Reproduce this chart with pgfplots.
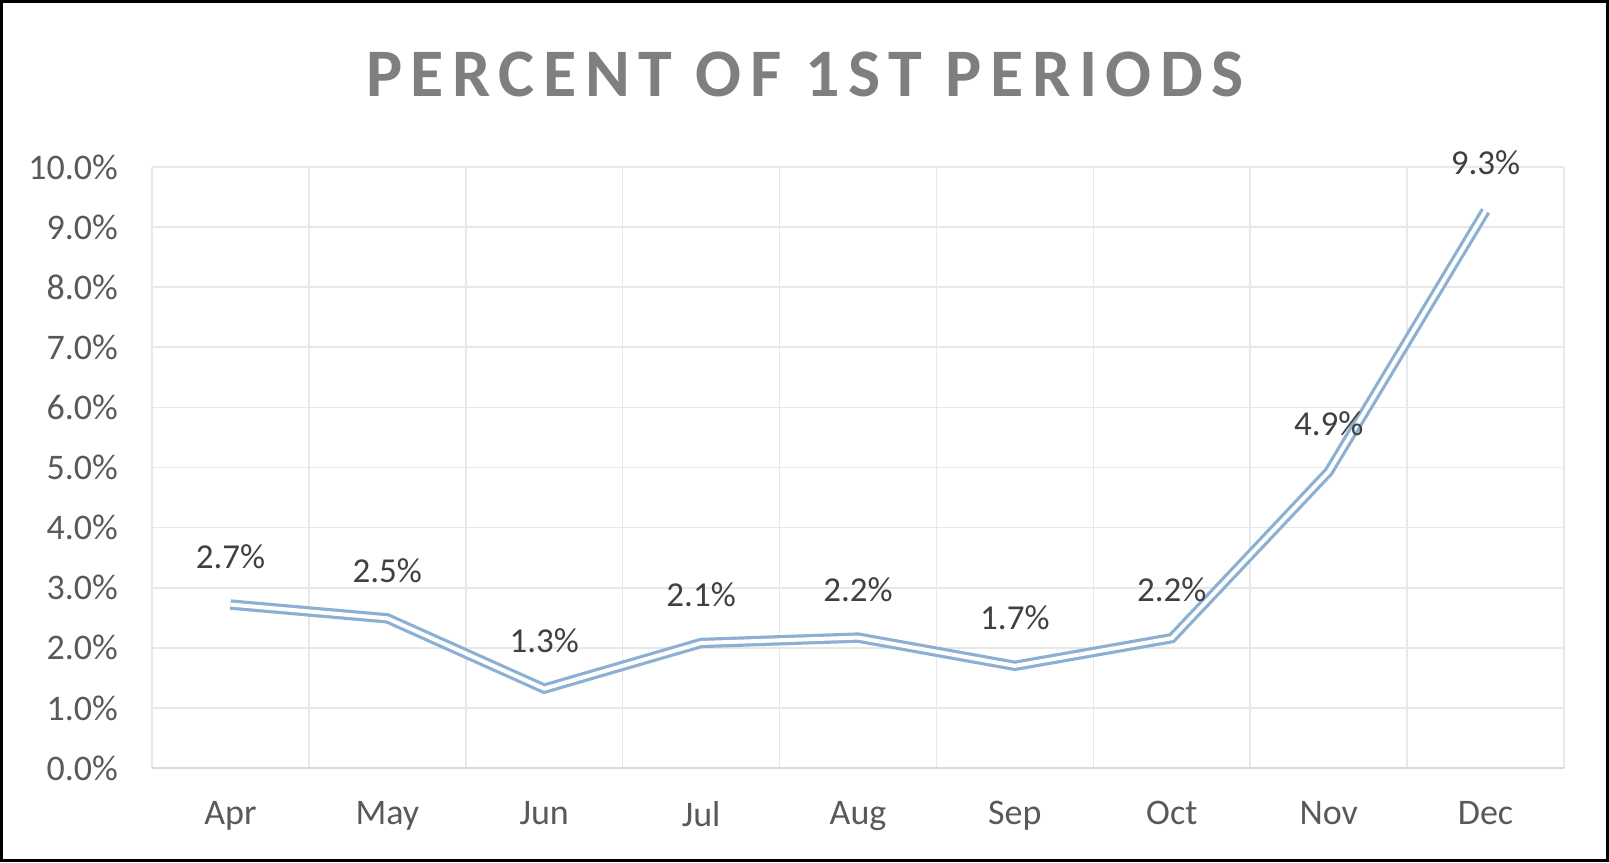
\documentclass[border=0pt]{standalone}
\usepackage{pgfplots}
\pgfplotsset{compat=1.18}
\usepackage{fontspec}
\setmainfont{Carlito}
\newfontfamily\titlefont[LetterSpace=12.5]{Carlito}
\definecolor{ticktext}{RGB}{89,89,89}
\definecolor{datatext}{RGB}{64,64,64}
\definecolor{titlegray}{RGB}{127,127,127}
\definecolor{gridgray}{RGB}{232,232,232}
\definecolor{axisgray}{RGB}{217,217,217}
\definecolor{lineblue}{RGB}{140,176,211}
\begin{document}
\begin{tikzpicture}
\useasboundingbox (0,0) rectangle (804.5pt,431pt);
\begin{axis}[
  at={(76pt,47pt)}, anchor=south west,
  scale only axis, width=706pt, height=300.5pt,
  xmin=-0.5, xmax=8.5, ymin=0, ymax=10,
  xtick={0,...,8},
  xticklabels={Apr,May,Jun,Jul,Aug,Sep,Oct,Nov,Dec},
  minor xtick={-0.5,0.5,...,8.5},
  ytick={0,1,...,10},
  xminorgrids=true, ymajorgrids=true, xmajorgrids=false,
  grid style={gridgray, line width=0.8pt},
  minor grid style={gridgray, line width=0.8pt},
  major tick length=0pt, minor tick length=0pt,
  axis line style={draw=none},
  /pgf/number format/assume math mode=true,
  yticklabel={\pgfmathprintnumber[fixed,fixed zerofill,precision=1]{\tick}\%},
  yticklabel style={font=\fontsize{18}{20}\selectfont, text=ticktext, xshift=-13.5pt},
  xticklabel style={font=\fontsize{18}{20}\selectfont, text=ticktext, yshift=-13pt},
  clip=false,
  nodes near coords={\pgfmathprintnumber[fixed,fixed zerofill,precision=1]{\pgfplotspointmeta}\%},
  every node near coord/.style={anchor=center, yshift=24pt, font=\fontsize{17.5}{20}\selectfont, text=datatext},
]
\draw[axisgray, line width=0.8pt] (axis cs:-0.5,0) -- (axis cs:8.5,0);
\addplot[lineblue, line width=1.6pt, double=white, double distance=2pt, mark=none, line join=miter]
  coordinates {(0,2.72) (1,2.49) (2,1.32) (3,2.08) (4,2.17) (5,1.70) (6,2.16) (7,4.93) (8,9.27)};
\end{axis}
\node[font=\titlefont\bfseries\fontsize{34}{38}\selectfont, text=titlegray, anchor=center] at (402.5pt,394pt) {PERCENT OF 1ST PERIODS};
\draw[black, line width=1.6pt] (0.8pt,0.8pt) rectangle (803.7pt,430.2pt);
\end{tikzpicture}
\end{document}
